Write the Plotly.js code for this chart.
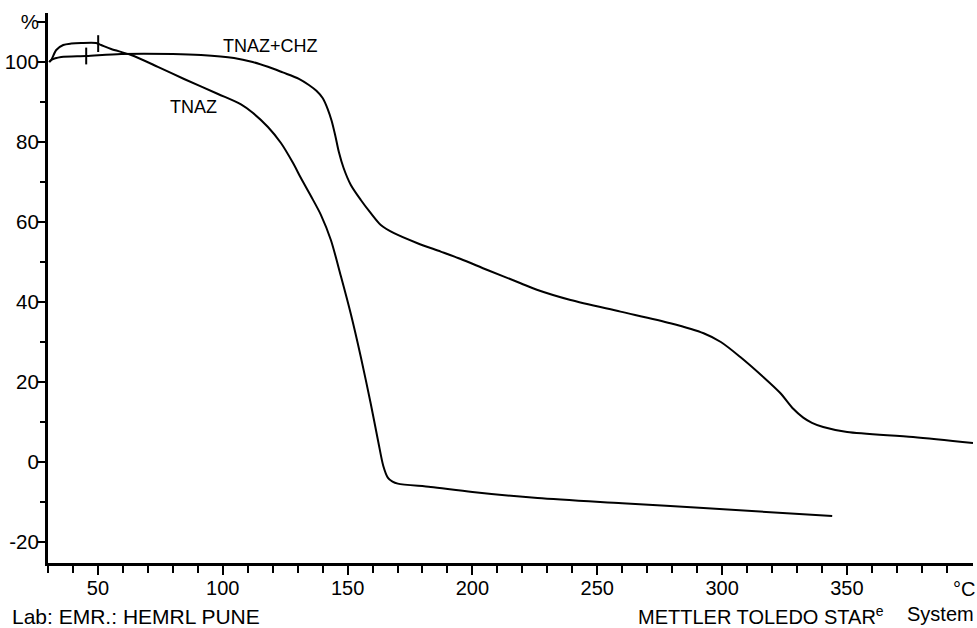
<!DOCTYPE html>
<html>
<head>
<meta charset="utf-8">
<script src="https://cdn.plot.ly/plotly-3.0.1.min.js"></script>
<style>html,body{margin:0;padding:0;background:#fff;}#chart{width:977px;height:628px;}</style>
</head>
<body>
<div id="chart"></div>
<script>
// Temperature (°C) and mass (%)
const tnazTemp = [30.5, 31.3, 33.3, 36.1, 39.3, 43.3, 49.3, 51.3, 55.3, 63.3, 74, 84.5, 98.1, 107.3, 112, 118.1, 123.3, 128.1, 131.3, 135.3, 139.3, 143.3, 147.3, 151.3, 155.3, 159.3, 162.3, 164.3, 166.1, 168, 170.1, 183.3, 200, 226.1, 260, 292.5, 344.1];
const tnazMass = [100, 100.5, 103, 104.25, 104.6, 104.75, 104.75, 104.25, 103.25, 101.75, 98.8, 95.75, 92, 89.4, 87.3, 83.75, 79.75, 74.8, 71, 66.5, 61.8, 55.5, 46.5, 37, 26.25, 14.5, 5, -1, -3.9, -4.9, -5.4, -6.25, -7.5, -9, -10.3, -11.5, -13.5];

const chzTemp = [30.5, 31.3, 35.3, 45.3, 59.3, 80, 91.3, 104.5, 112, 118.1, 124, 130.5, 134.5, 137.5, 140, 142, 143.6, 145.1, 146.5, 148.4, 151.3, 155.3, 159.3, 163.3, 168.6, 178, 187.3, 195.3, 206, 219.3, 226.1, 239.3, 259.3, 279.3, 292.6, 299.5, 307.3, 316.5, 323.3, 328.5, 332.5, 336, 340.5, 350.1, 376.5, 400.5];
const chzMass = [100, 100.5, 101.25, 101.5, 102, 102, 101.75, 101, 100, 98.8, 97.4, 95.8, 94.25, 92.8, 91, 88.3, 85.3, 81.5, 77.5, 73.5, 69.25, 65.5, 62.2, 59.25, 57.2, 54.7, 52.6, 50.75, 48, 44.7, 43, 40.5, 37.6, 34.7, 32.2, 30, 26.25, 21.25, 17.25, 13.3, 11.1, 9.8, 8.75, 7.5, 6.25, 4.75];

// small evaluation marks on the curves
const markTemp = [50.1, 45.3];
const markMass = [104.6, 101.5];

// axis ticks
const xTickVals = [50, 100, 150, 200, 250, 300, 350];
const xTickText = ['50', '100', '150', '200', '250', '300', '350'];
const xMinorVals = [30, 40, 60, 70, 80, 90, 110, 120, 130, 140, 160, 170, 180, 190, 210, 220, 230, 240, 260, 270, 280, 290, 310, 320, 330, 340, 360, 370, 380, 390];
const xUnit = '°C';
const yTickVals = [-20, 0, 20, 40, 60, 80, 100, 110];
const yTickText = ['-20', '0', '20', '40', '60', '80', '100', '%'];
const yMinorVals = [-10, 10, 30, 50, 70, 90];

// curve labels
const seriesNames = ['TNAZ', 'TNAZ+CHZ'];
const labelTemp = [88.1, 119.3];
const labelMass = [88.75, 104];

const FONT = 'Liberation Sans, Arial, Helvetica, sans-serif';

const traces = [
  {x: tnazTemp, y: tnazMass, name: seriesNames[0], mode: 'lines', line: {color: '#000', width: 2, shape: 'spline', smoothing: 0.8}, hoverinfo: 'x+y'},
  {x: chzTemp, y: chzMass, name: seriesNames[1], mode: 'lines', line: {color: '#000', width: 2, shape: 'spline', smoothing: 0.8}, hoverinfo: 'x+y'},
  {x: markTemp, y: markMass, mode: 'markers', marker: {symbol: 'line-ns', size: 12, color: '#000', line: {color: '#000', width: 2}}, hoverinfo: 'skip'}
];

const annotations = [
  {x: labelTemp[0], y: labelMass[0], xref: 'x', yref: 'y', text: seriesNames[0], showarrow: false, font: {family: FONT, size: 18, color: '#000'}},
  {x: labelTemp[1], y: labelMass[1], xref: 'x', yref: 'y', text: seriesNames[1], showarrow: false, font: {family: FONT, size: 18, color: '#000'}},
  {x: 0.9905, y: -0.047, xref: 'paper', yref: 'paper', text: xUnit, showarrow: false, xanchor: 'center', yanchor: 'middle', font: {family: FONT, size: 20, color: '#000'}},
  {x: -0.041, y: -0.0965, xref: 'paper', yref: 'paper', text: 'Lab: EMR.: HEMRL PUNE', showarrow: false, xanchor: 'left', yanchor: 'middle', font: {family: FONT, size: 21, color: '#000'}},
  {x: 0.6357, y: -0.0955, xref: 'paper', yref: 'paper', text: 'METTLER TOLEDO STAR<sup>e</sup>', showarrow: false, xanchor: 'left', yanchor: 'middle', font: {family: FONT, size: 20, color: '#000'}},
  {x: 1.003, y: -0.0935, xref: 'paper', yref: 'paper', text: 'System', showarrow: false, xanchor: 'right', yanchor: 'middle', font: {family: FONT, size: 20, color: '#000'}}
];

const layout = {
  width: 977, height: 628,
  margin: {l: 48, r: 4, t: 13, b: 65, pad: 0},
  paper_bgcolor: '#fff', plot_bgcolor: '#fff',
  showlegend: false,
  font: {family: FONT, color: '#000', size: 20},
  xaxis: {
    range: [30, 400.5], showgrid: false, zeroline: false,
    showline: true, linecolor: '#000', linewidth: 3,
    tickmode: 'array', tickvals: xTickVals, ticktext: xTickText,
    ticks: 'outside', ticklen: 9, tickwidth: 2, tickcolor: '#000',
    ticklabelstandoff: -4,
    tickfont: {family: FONT, size: 20, color: '#000'},
    minor: {tickmode: 'array', tickvals: xMinorVals, ticks: 'outside', ticklen: 7, tickwidth: 2, tickcolor: '#000', showgrid: false}
  },
  yaxis: {
    range: [-25.25, 112.25], showgrid: false, zeroline: false,
    showline: true, linecolor: '#000', linewidth: 3,
    tickmode: 'array', tickvals: yTickVals, ticktext: yTickText,
    ticks: 'outside', ticklen: 8, tickwidth: 2, tickcolor: '#000',
    ticklabelstandoff: -6,
    tickfont: {family: FONT, size: 20.5, color: '#000'},
    minor: {tickmode: 'array', tickvals: yMinorVals, ticks: 'outside', ticklen: 5, tickwidth: 2, tickcolor: '#000', showgrid: false}
  },
  annotations: annotations
};

Plotly.newPlot('chart', traces, layout, {displayModeBar: false, staticPlot: true});
</script>
</body>
</html>
